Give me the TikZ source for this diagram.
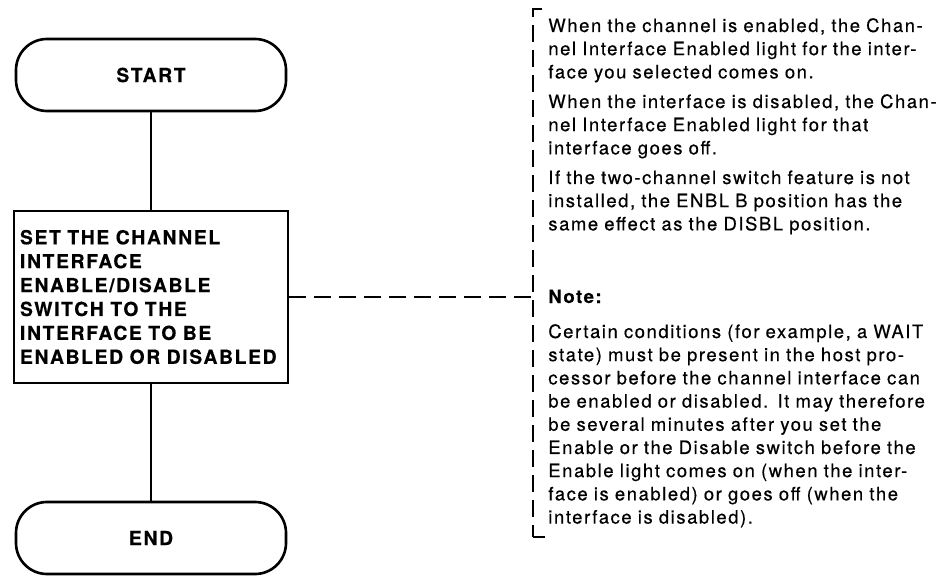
\documentclass[tikz,border=0pt]{standalone}
\usepackage{fontspec}
\setmainfont{TeX Gyre Heros}[LetterSpace=8.5,FakeBold=0.4]
\usepackage{tikz}

\begin{document}
\begin{tikzpicture}[x=0.2mm,y=0.2mm,
  terminal/.style={draw,line width=1.5pt,rounded corners=0.62cm,minimum width=5.4cm,minimum height=1.44cm,font=\fontsize{11}{13.6}\selectfont\bfseries},
  process/.style={draw,line width=1.5pt,minimum width=5.42cm,minimum height=3.44cm,text width=5.24cm,align=left,font=\fontsize{11}{13.6}\selectfont\bfseries},
  notetext/.style={anchor=base west,inner sep=0pt,text width=7.9cm,align=left,font=\fontsize{10.5}{13.2}\selectfont},
  flowline/.style={line width=1.5pt},
  leader/.style={line width=1.3pt,dash pattern=on 0.34cm off 0.16cm}]
\useasboundingbox (0,0) rectangle (947,575);

% flowchart column
\node[terminal] (start) at (151,500) {START};
\node[process] (box) at (151,278) {SET THE CHANNEL\\INTERFACE\\ENABLE/DISABLE\\SWITCH TO THE\\INTERFACE TO BE\\ENABLED OR DISABLED};
\node[terminal] (end) at (151,37) {END};

\foreach \x/\y in
{start/box, box/end}{
	\draw[flowline] (\x)--(\y);
}

% bracket (right)
\coordinate (btop) at (533,566);
\coordinate (bmid) at (533,278);
\coordinate (bbot) at (533,38);
\draw[leader] (542,566) -- (btop) -- (bbot);
\draw[flowline] (bbot) -- (545,38);
\draw[leader] (box.east) -- (bmid);

% notes
\node[notetext] (p1) at (548,543) {When the channel is enabled, the Chan-\\nel Interface Enabled light for the inter-\\face you selected comes on.};
\node[notetext] (p2) at (548,467) {When the interface is disabled, the Chan-\\nel Interface Enabled light for that\\interface goes off.};
\node[notetext] (p3) at (548,391) {If the two-channel switch feature is not\\installed, the ENBL B position has the\\same effect as the DISBL position.};
\node[notetext,font=\fontsize{10.5}{13.2}\selectfont\bfseries] (note) at (548,272) {Note:};
\node[notetext] (p4) at (548,237) {Certain conditions (for example, a WAIT\\state) must be present in the host pro-\\cessor before the channel interface can\\be enabled or disabled.  It may therefore\\be several minutes after you set the\\Enable or the Disable switch before the\\Enable light comes on (when the inter-\\face is enabled) or goes off (when the\\interface is disabled).};
\end{tikzpicture}
\end{document}
